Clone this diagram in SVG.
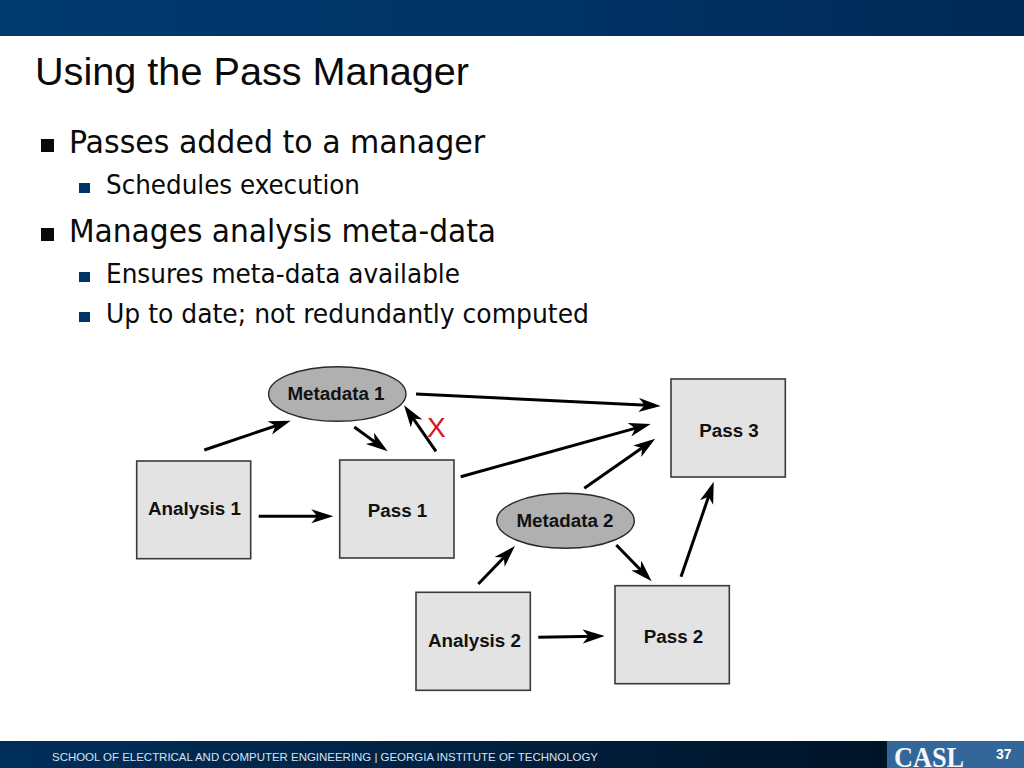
<svg xmlns="http://www.w3.org/2000/svg" width="1024" height="768" viewBox="0 0 1024 768">
<style>
.title{font:38px "Liberation Sans",Arial,sans-serif;fill:#0a0a0a}
.b1{font:32px "DejaVu Sans Condensed","DejaVu Sans",sans-serif;fill:#0a0a0a}
.b2{font:27px "DejaVu Sans Condensed","DejaVu Sans",sans-serif;fill:#0a0a0a}
.box{fill:#e3e3e3;stroke:#3a3a3a;stroke-width:1.6}
.ell{fill:#b0b0b0;stroke:#2a2a2a;stroke-width:1.4}
.lab{font:bold 18.8px "Liberation Sans",Arial,sans-serif;fill:#111;text-anchor:middle}
.arr{stroke:#000;stroke-width:3;fill:none;marker-end:url(#ah)}
</style>
<defs>
<linearGradient id="top" x1="0" x2="1" y1="0" y2="0"><stop offset="0" stop-color="#003a6e"/><stop offset="0.5" stop-color="#003366"/><stop offset="1" stop-color="#002a56"/></linearGradient>
<linearGradient id="bot" x1="0" x2="1" y1="0" y2="0"><stop offset="0" stop-color="#002f5c"/><stop offset="1" stop-color="#001428"/></linearGradient>
<marker id="ah" markerUnits="userSpaceOnUse" markerWidth="26" markerHeight="20" refX="14" refY="7" orient="auto"><path d="M0,0L22,7L0,14L6,7z" fill="#000"/></marker>
</defs>
<rect width="1024" height="768" fill="#fff"/>
<rect width="1024" height="36" fill="url(#top)"/>
<rect y="741" width="887" height="27" fill="url(#bot)"/>
<rect x="887" y="741" width="137" height="27" fill="#336699"/>
<text x="52" y="761" font-family="Liberation Sans,Arial,sans-serif" font-size="11" fill="#d5e3f0" textLength="546" lengthAdjust="spacingAndGlyphs">SCHOOL OF ELECTRICAL AND COMPUTER ENGINEERING | GEORGIA INSTITUTE OF TECHNOLOGY</text>
<text x="894" y="767" font-family="Liberation Serif,Times New Roman,serif" font-weight="bold" font-size="29" fill="#f4f7fb" textLength="70" lengthAdjust="spacingAndGlyphs">CASL</text>
<text x="996" y="759" font-family="Liberation Sans,Arial,sans-serif" font-weight="bold" font-size="14" fill="#fff">37</text>
<text class="title" x="35" y="85" textLength="434" lengthAdjust="spacingAndGlyphs">Using the Pass Manager</text>
<rect x="41" y="139" width="13" height="13" fill="#0a0a0a"/>
<text class="b1" x="69" y="153" textLength="416" lengthAdjust="spacingAndGlyphs">Passes added to a manager</text>
<rect x="79" y="183" width="11" height="10" fill="#003366"/>
<text class="b2" x="106" y="194" textLength="254" lengthAdjust="spacingAndGlyphs">Schedules execution</text>
<rect x="41" y="228" width="13" height="13" fill="#0a0a0a"/>
<text class="b1" x="69" y="242" textLength="427" lengthAdjust="spacingAndGlyphs">Manages analysis meta-data</text>
<rect x="79" y="272" width="11" height="10" fill="#003366"/>
<text class="b2" x="106" y="283" textLength="354" lengthAdjust="spacingAndGlyphs">Ensures meta-data available</text>
<rect x="79" y="312" width="11" height="10" fill="#003366"/>
<text class="b2" x="106" y="323" textLength="483" lengthAdjust="spacingAndGlyphs">Up to date; not redundantly computed</text>
<g id="connectors">
<line class="arr" x1="204.3" y1="450" x2="283.1" y2="423.3"/>
<line class="arr" x1="354.3" y1="427" x2="381.2" y2="446.6"/>
<line class="arr" x1="436" y1="451.3" x2="408.6" y2="411.9"/>
<line class="arr" x1="258.7" y1="516.3" x2="325.3" y2="516.3"/>
<line class="arr" x1="416" y1="394" x2="652.7" y2="405.6"/>
<line class="arr" x1="460.7" y1="476.7" x2="643" y2="426.1"/>
<line class="arr" x1="584.3" y1="488.3" x2="648.7" y2="443.3"/>
<line class="arr" x1="616.3" y1="545" x2="646.1" y2="575.6"/>
<line class="arr" x1="478.3" y1="584" x2="509.4" y2="551.8"/>
<line class="arr" x1="538.3" y1="637.3" x2="596.7" y2="636.2"/>
<line class="arr" x1="681" y1="576.7" x2="711.1" y2="489.3"/>
</g>
<g id="metadata1"><ellipse class="ell" cx="337.3" cy="394" rx="68.7" ry="27.3"/><text class="lab" x="336" y="400">Metadata 1</text></g>
<g id="metadata2"><ellipse class="ell" cx="565.5" cy="520.8" rx="68.8" ry="27.5"/><text class="lab" x="565" y="527">Metadata 2</text></g>
<g id="analysis1"><rect class="box" x="136.7" y="461" width="114" height="97.7"/><text class="lab" x="194.5" y="515">Analysis 1</text></g>
<g id="pass1"><rect class="box" x="339.7" y="460" width="114.3" height="98"/><text class="lab" x="397.5" y="517">Pass 1</text></g>
<g id="analysis2"><rect class="box" x="416" y="592.3" width="114.3" height="98"/><text class="lab" x="474.5" y="647">Analysis 2</text></g>
<g id="pass2"><rect class="box" x="615" y="585.7" width="114.3" height="98"/><text class="lab" x="673.5" y="643">Pass 2</text></g>
<g id="pass3"><rect class="box" x="671" y="379" width="114.3" height="98"/><text class="lab" x="729" y="437">Pass 3</text></g>
<text x="427" y="437" font-family="Liberation Sans,Arial,sans-serif" font-size="28" fill="#d8141e">X</text>
</svg>
